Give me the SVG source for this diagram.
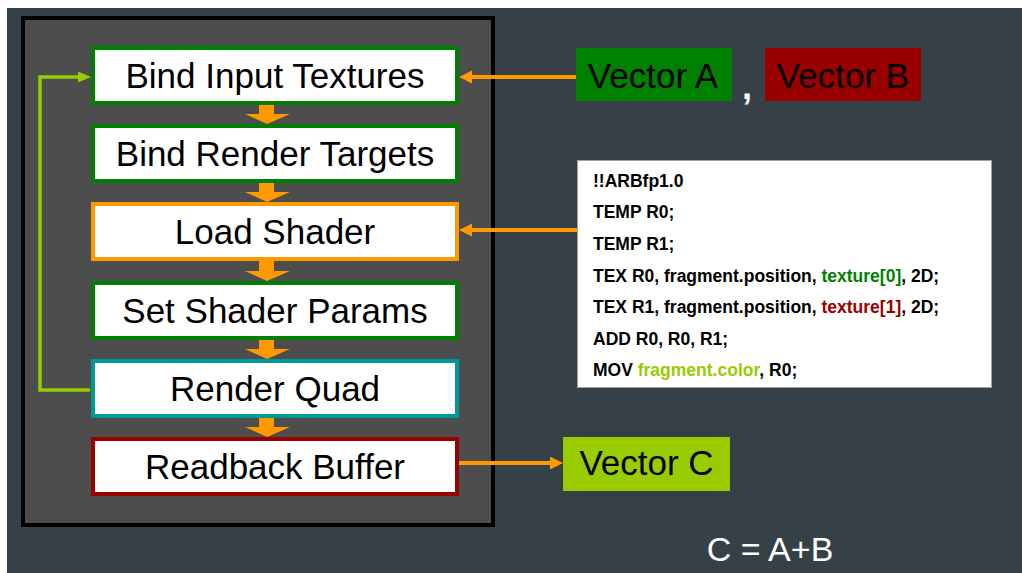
<svg xmlns="http://www.w3.org/2000/svg" width="1022" height="573" viewBox="0 0 1022 573">
<defs>
<style>
.box{fill:#ffffff;stroke-width:4}
.lbl{font-family:"Liberation Sans",Arial,sans-serif;font-size:35px;fill:#000;text-anchor:middle}
.vec{font-family:"Liberation Sans",Arial,sans-serif;font-size:35px;fill:#000;text-anchor:middle}
.code{font-family:"Liberation Sans",Arial,sans-serif;font-size:17.5px;font-weight:bold;fill:#000}
.blk{fill:#ff9900}
.oline{stroke:#ff9900;stroke-width:4;fill:none}
.gline{stroke:#99cc00;stroke-width:3.5;fill:none}
</style>
<marker id="ahO" markerUnits="userSpaceOnUse" markerWidth="14" markerHeight="14" refX="3" refY="6.5" orient="auto">
<path d="M0,0 L13,6.5 L0,13 z" fill="#ff9900"/>
</marker>
<marker id="ahG" markerUnits="userSpaceOnUse" markerWidth="14" markerHeight="12" refX="3" refY="5.5" orient="auto">
<path d="M0,0 L13,5.5 L0,11 z" fill="#99cc00"/>
</marker>
</defs>
<rect x="7" y="8" width="1015" height="565" fill="#364047"/>
<rect id="frame" x="23" y="18" width="470" height="507" fill="#4d4d4d" stroke="#000" stroke-width="4"/>

<g id="connectors">
<polygon class="blk" points="259,105 274,105 274,114 290,114 267,124 245,114 259,114"/>
<polygon class="blk" points="259,183 274,183 274,192 290,192 267,202 245,192 259,192"/>
<polygon class="blk" points="259,261 274,261 274,271 290,271 267,281 245,271 259,271"/>
<polygon class="blk" points="259,340 274,340 274,349 290,349 267,359 245,349 259,349"/>
<polygon class="blk" points="259,418 274,418 274,427 290,427 267,437 245,427 259,427"/>
<line class="oline" x1="576" y1="77" x2="469" y2="77" marker-end="url(#ahO)"/>
<line class="oline" x1="577" y1="230" x2="469" y2="230" marker-end="url(#ahO)"/>
<line class="oline" x1="459" y1="463" x2="553" y2="463" marker-end="url(#ahO)"/>
<path class="gline" d="M90,390 H40 V77 H81" marker-end="url(#ahG)"/>
</g>

<g id="bind-input">
<rect class="box" x="93" y="48" width="364" height="55" stroke="#008000"/>
<text class="lbl" x="275" y="88">Bind Input Textures</text>
</g>
<g id="bind-render">
<rect class="box" x="93" y="126" width="364" height="55" stroke="#008000"/>
<text class="lbl" x="275" y="166">Bind Render Targets</text>
</g>
<g id="load-shader">
<rect class="box" x="93" y="204" width="364" height="55" stroke="#ff9900"/>
<text class="lbl" x="275" y="244">Load Shader</text>
</g>
<g id="set-params">
<rect class="box" x="93" y="283" width="364" height="55" stroke="#008000"/>
<text class="lbl" x="275" y="323">Set Shader Params</text>
</g>
<g id="render-quad">
<rect class="box" x="93" y="361" width="364" height="55" stroke="#009999"/>
<text class="lbl" x="275" y="401">Render Quad</text>
</g>
<g id="readback">
<rect class="box" x="93" y="439" width="364" height="55" stroke="#990000"/>
<text class="lbl" x="275" y="479">Readback Buffer</text>
</g>

<g id="vector-a">
<rect x="576" y="48" width="156" height="53" fill="#008000"/>
<text class="vec" x="653" y="88">Vector A</text>
</g>
<text x="742" y="99" font-family="Liberation Sans,Arial,sans-serif" font-size="36" font-weight="bold" fill="#ffffff">,</text>
<g id="vector-b">
<rect x="765" y="48" width="156" height="53" fill="#990000"/>
<text class="vec" x="843" y="88">Vector B</text>
</g>

<g id="shader-code">
<rect x="577.5" y="160.5" width="414" height="227" fill="#ffffff" stroke="#a0a0a0" stroke-width="1"/>
<text class="code" x="593" y="187">!!ARBfp1.0</text>
<text class="code" x="593" y="218">TEMP R0;</text>
<text class="code" x="593" y="250">TEMP R1;</text>
<text class="code" x="593" y="282">TEX R0, fragment.position, <tspan fill="#008000">texture[0]</tspan>, 2D;</text>
<text class="code" x="593" y="313">TEX R1, fragment.position, <tspan fill="#990000">texture[1]</tspan>, 2D;</text>
<text class="code" x="593" y="345">ADD R0, R0, R1;</text>
<text class="code" x="593" y="376">MOV <tspan fill="#99cc00">fragment.color</tspan>, R0;</text>
</g>

<g id="vector-c">
<rect x="563" y="437" width="167" height="54" fill="#99cc00"/>
<text class="vec" x="646.5" y="475">Vector C</text>
</g>
<text x="770" y="561" font-family="Liberation Sans,Arial,sans-serif" font-size="34" fill="#ffffff" text-anchor="middle">C = A+B</text>
</svg>
